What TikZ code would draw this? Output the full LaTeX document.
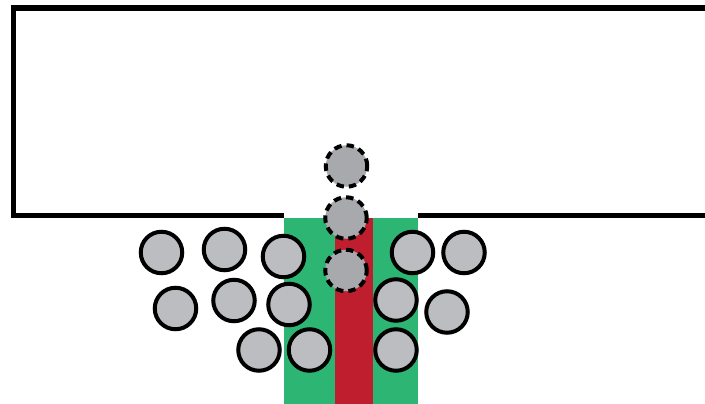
\documentclass[tikz,border=0pt]{standalone}
\usepackage{tikz}
\usetikzlibrary{positioning,calc}

\definecolor{slotgreen}{RGB}{45,182,115}
\definecolor{slotred}{RGB}{190,30,45}
\definecolor{ballgrey}{RGB}{188,189,192}
\definecolor{ghostgrey}{RGB}{167,169,172}

\begin{document}
\begin{tikzpicture}[
    x=1pt, y=-1pt,
    wall/.style={draw, line width=5.5pt},
    ball/.style={
        circle,
        draw,
        fill=ballgrey,
        line width=4pt,
        minimum size=41.5pt,
        inner sep=0pt
    },
    ghostball/.style={ball, fill=ghostgrey, dash pattern=on 7.5pt off 5pt}
]
\useasboundingbox (0,0) rectangle (705,404);

% container outline, open where the slot is
\draw[wall] (284,215.5) -- (13.5,215.5) -- (13.5,8) -- (712,8);
\draw[wall] (418,215.5) -- (712,215.5);

% slot
\fill[slotgreen] (284,217.5) rectangle (418,406);
\fill[slotred] (335,217.5) rectangle (373,406);

% balls left of the slot
\node[ball] (bl1) at (161.5,252.5) {};
\node[ball] (bl2) at (224.5,249.5) {};
\node[ball] (bl3) at (283.5,256.5) {};
\node[ball] (bl4) at (175.5,308.5) {};
\node[ball] (bl5) at (234,300.5) {};
\node[ball] (bl6) at (289,304.5) {};
\node[ball] (bl7) at (259,350) {};
\node[ball] (bl8) at (309.5,350) {};

% balls right of the slot
\node[ball] (br1) at (412.5,252.5) {};
\node[ball] (br2) at (464,252.5) {};
\node[ball] (br3) at (396,300) {};
\node[ball] (br4) at (447,312) {};
\node[ball] (br5) at (396,350) {};

% balls passing through
\node[ghostball] (g1) at (346.5,166) {};
\node[ghostball] (g2) at (346,218) {};
\node[ghostball] (g3) at (346,270.5) {};

\end{tikzpicture}
\end{document}
